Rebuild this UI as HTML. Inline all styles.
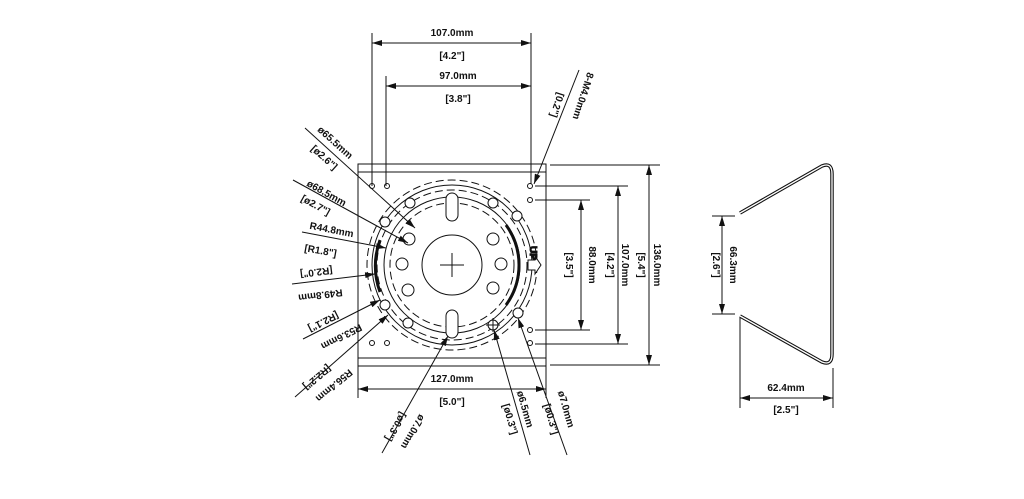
<!DOCTYPE html>
<html><head><meta charset="utf-8"><style>
html,body{margin:0;padding:0;background:#fff;}
svg{display:block;}
text{font-family:"Liberation Sans",sans-serif;font-weight:bold;font-size:10px;fill:#111;}
</style></head><body>
<svg width="1024" height="499" viewBox="0 0 1024 499" xmlns="http://www.w3.org/2000/svg">
<defs>
<marker id="a" markerWidth="10" markerHeight="6" refX="10" refY="3" orient="auto-start-reverse" markerUnits="userSpaceOnUse"><path d="M0,0 L10,3 L0,6 z" fill="#111"/></marker>
</defs>
<g stroke="#111" stroke-width="1" fill="none">
<rect x="358" y="164" width="188" height="202"/>
<line x1="358" y1="172" x2="546" y2="172"/>
<line x1="358" y1="358" x2="546" y2="358"/>
<circle cx="452" cy="265" r="85" stroke-dasharray="8,4"/>
<circle cx="452" cy="265" r="80"/>
<circle cx="452" cy="265" r="75" stroke-dasharray="8,4"/>
<circle cx="452" cy="265" r="68"/>
<circle cx="452" cy="265" r="62" stroke-dasharray="8,4"/>
<circle cx="452" cy="265" r="30"/>
<line x1="440" y1="265" x2="464" y2="265"/><line x1="452" y1="253" x2="452" y2="277"/>
<rect x="446" y="193" width="12" height="28" rx="6" fill="#fff"/>
<rect x="446" y="310" width="12" height="28" rx="6" fill="#fff"/>
<g fill="#fff">
<circle cx="409" cy="239" r="6"/><circle cx="402" cy="264" r="6"/><circle cx="408" cy="290" r="6"/>
<circle cx="493" cy="239" r="6"/><circle cx="501" cy="264" r="6"/><circle cx="493" cy="288" r="6"/>
<circle cx="410" cy="203" r="5"/><circle cx="385" cy="222" r="5"/><circle cx="493" cy="203" r="5"/>
<circle cx="385" cy="305" r="5"/><circle cx="408" cy="323" r="5"/><circle cx="493" cy="325" r="5"/>
<circle cx="518" cy="313" r="5"/><circle cx="517" cy="216" r="5"/>
</g>
<line x1="486" y1="325" x2="500" y2="325"/><line x1="493" y1="318" x2="493" y2="332"/>
<path d="M380,240 A75,75 0 0 0 380,292" stroke-width="3"/>
<path d="M506,225 A68,68 0 0 1 506,305" stroke-width="3"/>
<path d="M528,260 L535,260 L535,256 L541,265 L535,274 L535,270 L528,270 z" fill="#fff"/>
<text x="0" y="0" transform="translate(530,246) rotate(90)" font-size="8">UP</text>
<circle cx="372" cy="186" r="2.5"/><circle cx="387" cy="186" r="2.5"/>
<circle cx="372" cy="343" r="2.5"/><circle cx="387" cy="343" r="2.5"/>
<circle cx="530" cy="186" r="2.5"/><circle cx="530" cy="200" r="2.5"/>
<circle cx="530" cy="330" r="2.5"/><circle cx="530" cy="343" r="2.5"/>
<line x1="372" y1="33" x2="372" y2="186"/>
<line x1="531" y1="33" x2="531" y2="184"/>
<line x1="386" y1="76" x2="386" y2="186"/>
<line x1="372" y1="43" x2="531" y2="43" marker-start="url(#a)" marker-end="url(#a)"/>
<line x1="386" y1="86" x2="531" y2="86" marker-start="url(#a)" marker-end="url(#a)"/>
<line x1="579" y1="70" x2="534" y2="184" marker-end="url(#a)"/>
<line x1="550" y1="165" x2="660" y2="165"/>
<line x1="550" y1="365" x2="660" y2="365"/>
<line x1="535" y1="186" x2="628" y2="186"/>
<line x1="535" y1="344" x2="628" y2="344"/>
<line x1="535" y1="200" x2="590" y2="200"/>
<line x1="535" y1="330" x2="590" y2="330"/>
<line x1="649" y1="165" x2="649" y2="365" marker-start="url(#a)" marker-end="url(#a)"/>
<line x1="618" y1="186" x2="618" y2="344" marker-start="url(#a)" marker-end="url(#a)"/>
<line x1="581" y1="200" x2="581" y2="330" marker-start="url(#a)" marker-end="url(#a)"/>
<line x1="358" y1="366" x2="358" y2="398"/>
<line x1="546" y1="366" x2="546" y2="398"/>
<line x1="358" y1="389" x2="546" y2="389" marker-start="url(#a)" marker-end="url(#a)"/>
<line x1="305" y1="128" x2="415" y2="228" marker-end="url(#a)"/>
<line x1="293" y1="180" x2="408" y2="243" marker-end="url(#a)"/>
<line x1="302" y1="232" x2="386" y2="248" marker-end="url(#a)"/>
<line x1="292" y1="284" x2="375" y2="274" marker-end="url(#a)"/>
<line x1="303" y1="339" x2="380" y2="300" marker-end="url(#a)"/>
<line x1="295" y1="397" x2="388" y2="315" marker-end="url(#a)"/>
<line x1="382" y1="453" x2="448" y2="336" marker-end="url(#a)"/>
<line x1="530" y1="455" x2="494" y2="330" marker-end="url(#a)"/>
<line x1="567" y1="455" x2="518" y2="318" marker-end="url(#a)"/>
<path d="M740,213 L822,166 Q832,162 832,174 L832,354 Q832,366 822,362 L740,316" stroke-width="3.5"/>
<path d="M740,213 L822,166 Q832,162 832,174 L832,354 Q832,366 822,362 L740,316" stroke="#fff" stroke-width="1.3"/>
<line x1="712" y1="216" x2="735" y2="216"/>
<line x1="712" y1="314" x2="735" y2="314"/>
<line x1="722" y1="216" x2="722" y2="314" marker-start="url(#a)" marker-end="url(#a)"/>
<line x1="740" y1="318" x2="740" y2="408"/>
<line x1="833" y1="368" x2="833" y2="408"/>
<line x1="740" y1="398" x2="833" y2="398" marker-start="url(#a)" marker-end="url(#a)"/>
</g>
<g text-anchor="middle">
<text x="452" y="36">107.0mm</text>
<text x="452" y="59">[4.2"]</text>
<text x="458" y="79">97.0mm</text>
<text x="458" y="102">[3.8"]</text>
<text x="452" y="382">127.0mm</text>
<text x="452" y="405">[5.0"]</text>
<text x="786" y="391">62.4mm</text>
<text x="786" y="413">[2.5"]</text>
<text transform="translate(730,265) rotate(90)">66.3mm</text>
<text transform="translate(713,265) rotate(90)">[2.6"]</text>
<text transform="translate(654,265) rotate(90)">136.0mm</text>
<text transform="translate(638,265) rotate(90)">[5.4"]</text>
<text transform="translate(622,265) rotate(90)">107.0mm</text>
<text transform="translate(607,265) rotate(90)">[4.2"]</text>
<text transform="translate(589,265) rotate(90)">88.0mm</text>
<text transform="translate(566,265) rotate(90)">[3.5"]</text>
<text transform="translate(580,95) rotate(108)">8-M4.0mm</text>
<text transform="translate(554,104) rotate(108)">[0.2"]</text>
<text transform="translate(333,145) rotate(42)">ø65.5mm</text>
<text transform="translate(322,160) rotate(42)">[ø2.6"]</text>
<text transform="translate(325,196) rotate(29)">ø68.5mm</text>
<text transform="translate(314,208) rotate(29)">[ø2.7"]</text>
<text transform="translate(331,233) rotate(11)">R44.8mm</text>
<text transform="translate(320,254) rotate(10)">[R1.8"]</text>
<text transform="translate(316,269) rotate(173)">[R2.0"]</text>
<text transform="translate(320,292) rotate(173)">R49.8mm</text>
<text transform="translate(322,319) rotate(153)">[R2.1"]</text>
<text transform="translate(340,334) rotate(153)">R53.6mm</text>
<text transform="translate(315,375) rotate(140)">[R2.2"]</text>
<text transform="translate(332,383) rotate(140)">R56.4mm</text>
<text transform="translate(393,425) rotate(120)">[ø0.3"]</text>
<text transform="translate(410,430) rotate(120)">ø7.0mm</text>
<text transform="translate(522,410) rotate(74)">ø6.5mm</text>
<text transform="translate(507,420) rotate(74)">[ø0.3"]</text>
<text transform="translate(563,410) rotate(74)">ø7.0mm</text>
<text transform="translate(548,420) rotate(74)">[ø0.3"]</text>
</g>
</svg>
</body></html>
